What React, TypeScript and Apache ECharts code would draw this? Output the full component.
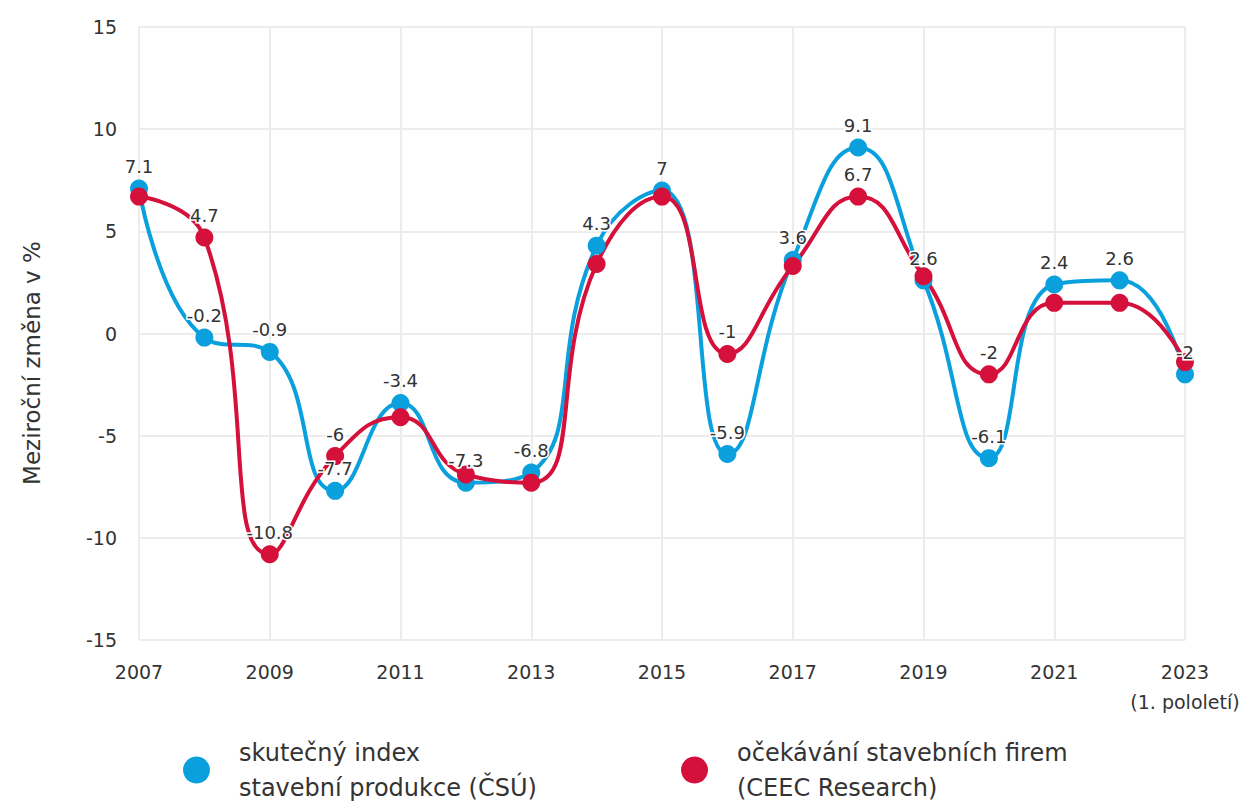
import React, { useEffect, useRef } from "react";
import * as echarts from "echarts";

const years = ["2007","2008","2009","2010","2011","2012","2013","2014","2015","2016","2017","2018","2019","2020","2021","2022","2023"];
const actualValues = [7.1, -0.2, -0.9, -7.7, -3.4, -7.3, -6.8, 4.3, 7, -5.9, 3.6, 9.1, 2.6, -6.1, 2.4, 2.6, -2];
const expectedValues = [6.7, 4.7, -10.8, -6, -4.1, -6.9, -7.3, 3.4, 6.7, -1, 3.3, 6.7, 2.8, -2, 1.5, 1.5, -1.4];
const actualLabelShown = [true, true, true, true, true, true, true, true, true, true, true, true, true, true, true, true, true];
const expectedLabelShown = [false, true, true, true, false, false, false, false, false, true, false, true, false, true, false, false, false];
const seriesNames = ["skutečný index\nstavební produkce (ČSÚ)", "očekávání stavebních firem\n(CEEC Research)"];
const yTicks = { min: -15, max: 15, interval: 5 };
const yAxisTitle = "Meziroční změna v %";
const lastYearNote = "(1. pololetí)";

const FONT = "'DejaVu Sans', sans-serif";
const BLUE = "#0aa0dd";
const RED = "#d5103a";
const TEXT = "#333333";

export default function App() {
  const ref = useRef<HTMLDivElement>(null);
  useEffect(() => {
    if (!ref.current) return;
    const chart = echarts.init(ref.current, undefined, { renderer: "svg" });
    const labelStyle = {
      position: "top",
      distance: 4,
      color: TEXT,
      fontSize: 18,
      fontFamily: FONT,
      textBorderColor: "#fff",
      textBorderWidth: 3,
    };
    const mk = (vals: number[], shown: boolean[]) =>
      vals.map((v, i) => ({ value: v, label: { show: shown[i] } }));
    const legendText = { color: TEXT, fontSize: 24, fontFamily: FONT, lineHeight: 35, padding: [0, 0, 0, 24] };
    chart.setOption({
      animation: false,
      backgroundColor: "#fff",
      textStyle: { fontFamily: FONT },
      grid: { left: 139, right: 59, top: 27, bottom: 162 },
      xAxis: {
        type: "category",
        data: years,
        boundaryGap: false,
        axisLine: { show: false },
        axisTick: { show: false },
        axisLabel: {
          interval: 1,
          color: TEXT,
          fontSize: 19,
          fontFamily: FONT,
          margin: 17,
          lineHeight: 30,
          formatter: (v: string, i: number) => (i === years.length - 1 ? v + "\n" + lastYearNote : v),
        },
        splitLine: { show: true, interval: 1, lineStyle: { color: "#ececec", width: 2 } },
      },
      yAxis: {
        type: "value",
        min: yTicks.min,
        max: yTicks.max,
        interval: yTicks.interval,
        axisLine: { show: false },
        axisTick: { show: false },
        axisLabel: { color: TEXT, fontSize: 19, fontFamily: FONT, margin: 22 },
        splitLine: { lineStyle: { color: "#ececec", width: 2 } },
      },
      legend: [
        {
          data: [seriesNames[0]],
          left: 178,
          top: 730,
          icon: "circle",
          itemWidth: 27,
          itemHeight: 27,
          textStyle: legendText,
        },
        {
          data: [seriesNames[1]],
          left: 676,
          top: 730,
          icon: "circle",
          itemWidth: 27,
          itemHeight: 27,
          textStyle: legendText,
        },
      ],
      graphic: [
        {
          type: "text",
          x: 32,
          y: 363,
          rotation: Math.PI / 2,
          style: {
            text: yAxisTitle,
            fill: TEXT,
            fontSize: 23,
            fontFamily: FONT,
            textAlign: "center",
            textVerticalAlign: "middle",
          },
        },
      ],
      series: [
        {
          name: seriesNames[0],
          type: "line",
          smooth: 0.5,
          data: mk(actualValues, actualLabelShown),
          symbol: "circle",
          symbolSize: 18,
          itemStyle: { color: BLUE },
          lineStyle: { color: BLUE, width: 4 },
          label: labelStyle,
        },
        {
          name: seriesNames[1],
          type: "line",
          smooth: 0.5,
          data: mk(expectedValues, expectedLabelShown),
          symbol: "circle",
          symbolSize: 18,
          itemStyle: { color: RED },
          lineStyle: { color: RED, width: 4 },
          label: labelStyle,
        },
      ],
    });
    return () => chart.dispose();
  }, []);
  return <div ref={ref} style={{ width: 1244, height: 802, position: "absolute", left: 0, top: 0 }} />;
}
